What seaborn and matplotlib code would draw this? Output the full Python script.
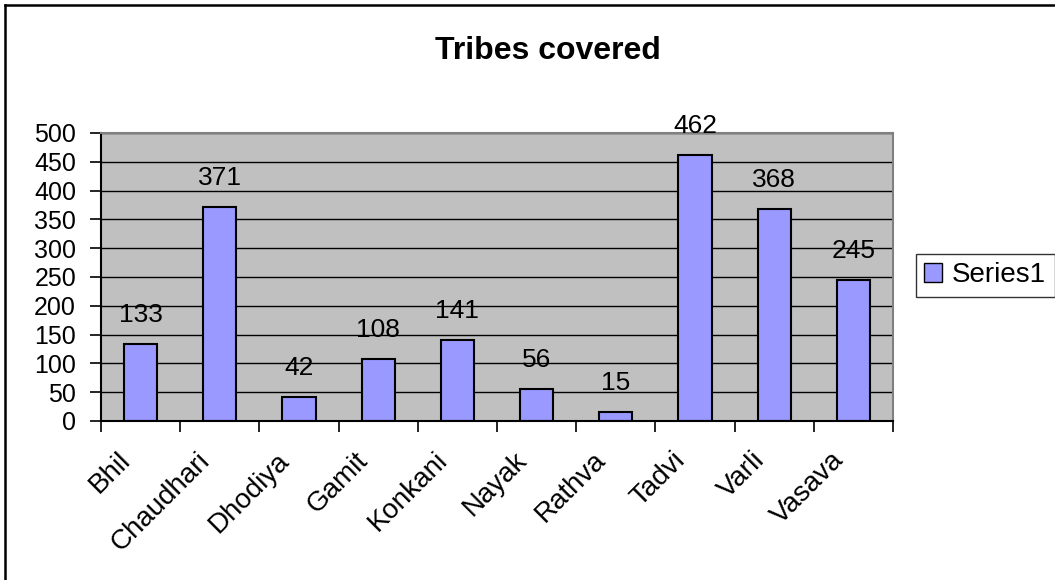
import matplotlib
matplotlib.use("Agg")
import matplotlib.pyplot as plt
from matplotlib.lines import Line2D
from matplotlib.patches import Patch
import seaborn as sns
import pandas as pd

# data
tribes = ["Bhil", "Chaudhari", "Dhodiya", "Gamit", "Konkani",
          "Nayak", "Rathva", "Tadvi", "Varli", "Vasava"]
counts = [133, 371, 42, 108, 141, 56, 15, 462, 368, 245]
y_ticks = list(range(0, 501, 50))

df = pd.DataFrame({"tribe": tribes, "count": counts})

plt.rcParams["font.family"] = ["Liberation Sans", "DejaVu Sans"]

fig = plt.figure(figsize=(10.55, 5.8), dpi=100)
ax = fig.add_axes([101 / 1055, 1 - 421 / 580, 792 / 1055, 288 / 580])

# bars
sns.barplot(data=df, x="tribe", y="count", color="#9999FF", saturation=1,
            edgecolor="black", linewidth=1.5, width=0.42, ax=ax)

ax.set_facecolor("#C0C0C0")
ax.set_xlim(-0.5, len(tribes) - 0.5)
ax.set_ylim(0, 500)
ax.set_yticks(y_ticks)
ax.yaxis.grid(True, color="black", linewidth=1)
ax.set_axisbelow(True)
ax.set_xlabel("")
ax.set_ylabel("")

# spines like the old spreadsheet chart
for side in ["top", "right"]:
    ax.spines[side].set_color("#808080")
    ax.spines[side].set_linewidth(1.5)
for side in ["left", "bottom"]:
    ax.spines[side].set_color("black")
    ax.spines[side].set_linewidth(1.5)

# ticks: boundaries as minor ticks, labels a bit left of the category centers
ax.set_xticks([i - 0.5 for i in range(len(tribes) + 1)], minor=True)
ax.tick_params(axis="x", which="minor", length=8, width=1.2, color="black")
ax.set_xticks([i - 0.29 for i in range(len(tribes))])
ax.set_xticklabels(tribes, rotation=45, ha="right", va="top",
                   rotation_mode="anchor", fontsize=20)
ax.tick_params(axis="x", which="major", length=0, pad=19)
ax.tick_params(axis="y", length=8, width=1.2, labelsize=18, pad=10)

# value labels
for i, v in enumerate(counts):
    ax.annotate(str(v), (i, v), xytext=(0, 16), textcoords="offset points",
                ha="center", va="baseline", fontsize=19)

fig.text(548 / 1055, 1 - 51 / 580, "Tribes covered", ha="center",
         va="center", fontsize=23, fontweight="bold")

# legend
handle = Patch(facecolor="#9999FF", edgecolor="black", linewidth=1)
fig.legend([handle], ["Series1"], loc="upper left",
           bbox_to_anchor=(916 / 1055, 1 - 254 / 580), fontsize=20,
           frameon=True, fancybox=False, edgecolor="black",
           handlelength=0.65, handleheight=0.65, handletextpad=0.35,
           borderpad=0.3, borderaxespad=0)
leg = fig.legends[0]
leg.get_frame().set_linewidth(1)

# outer chart border (only top and left fall inside the image)
fig.add_artist(Line2D([5 / 1055, 1.01], [1 - 5 / 580, 1 - 5 / 580],
                      transform=fig.transFigure, color="black", linewidth=1.8))
fig.add_artist(Line2D([5 / 1055, 5 / 1055], [-0.01, 1 - 5 / 580],
                      transform=fig.transFigure, color="black", linewidth=1.8))

fig.savefig("out.png", dpi=100)
